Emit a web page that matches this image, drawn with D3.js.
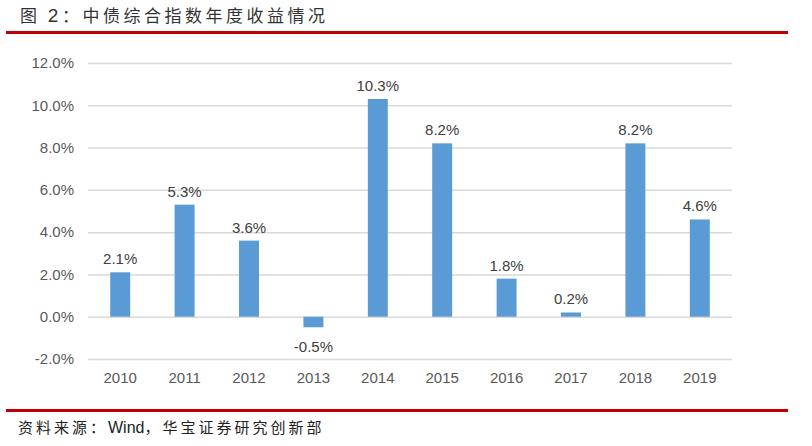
<!DOCTYPE html>
<html>
<head>
<meta charset="utf-8">
<script src="https://cdn.jsdelivr.net/npm/d3@7"></script>
<style>
  body { margin: 0; background: #fff; }
  text { font-family: "Liberation Sans", Arial, "Noto Sans CJK SC", sans-serif; }
</style>
</head>
<body>
<svg id="chart" width="812" height="446"></svg>
<script>
// annual returns of the China bond composite index
const years = ['2010', '2011', '2012', '2013', '2014', '2015', '2016', '2017', '2018', '2019']
const returns = [2.1, 5.3, 3.6, -0.5, 10.3, 8.2, 1.8, 0.2, 8.2, 4.6]
const yTicks = [-2, 0, 2, 4, 6, 8, 10, 12]

const svg = d3.select('#chart')
const cjk = '"Noto Sans CJK SC", "Liberation Sans", sans-serif'

// title, source and the two red rules
const title = svg.append('text')
    .attr('x', 20).attr('y', 22)
    .style('font-family', cjk)
    .style('font-size', '17px')
    .style('letter-spacing', '3.5px')
    .style('fill', '#333')
title.append('tspan').text('图 ')
title.append('tspan').style('font-family', '"Liberation Sans", sans-serif').style('font-size', '19px').text('2')
title.append('tspan').text('：中债综合指数年度收益情况')

svg.append('rect')
    .attr('x', 6).attr('y', 31).attr('width', 782).attr('height', 3)
    .attr('fill', '#c00000')
svg.append('rect')
    .attr('x', 6).attr('y', 409).attr('width', 782).attr('height', 3)
    .attr('fill', '#c00000')

const source = svg.append('text')
    .attr('x', 18).attr('y', 433)
    .style('font-family', cjk)
    .style('font-size', '15px')
    .style('letter-spacing', '3px')
    .style('fill', '#222')
source.append('tspan').text('资料来源：')
source.append('tspan').style('font-family', '"Liberation Sans", sans-serif').style('font-size', '16px').style('letter-spacing', '0px').text('Wind')
source.append('tspan').text('，华宝证券研究创新部')

// plot area
const left = 88, right = 732
const xScale = d3.scaleBand().domain(years).range([left, right]).paddingInner(0.69).paddingOuter(0.345)
const yScale = d3.scaleLinear().domain([-2, 12]).range([359, 63])

const yAxis = d3.axisLeft(yScale)
    .tickValues(yTicks)
    .tickSize(-(right - left))
    .tickPadding(14)
    .tickFormat(d => d.toFixed(1) + '%')

const yAxisG = svg.append('g')
    .attr('transform', 'translate(' + left + ',0)')
    .call(yAxis)
yAxisG.select('.domain').remove()
yAxisG.selectAll('.tick line').attr('stroke', '#d9d9d9').attr('stroke-width', 1.5)
yAxisG.selectAll('.tick text')
    .style('font-size', '15px')
    .style('fill', '#595959')
    .style('font-family', '"Liberation Sans", Arial, sans-serif')

const xAxis = d3.axisBottom(xScale).tickSize(0).tickPadding(13)
const xAxisG = svg.append('g')
    .attr('transform', 'translate(0,' + yScale(-2) + ')')
    .call(xAxis)
xAxisG.select('.domain').remove()
xAxisG.selectAll('.tick text')
    .style('font-size', '15px')
    .style('fill', '#595959')
    .style('font-family', '"Liberation Sans", Arial, sans-serif')

// bars
svg.selectAll('.bar')
    .data(returns)
    .enter().append('rect')
    .attr('class', 'bar')
    .attr('x', (d, i) => xScale(years[i]))
    .attr('width', xScale.bandwidth())
    .attr('y', d => yScale(Math.max(d, 0)))
    .attr('height', d => Math.abs(yScale(d) - yScale(0)))
    .attr('fill', '#5b9bd5')

// value labels
svg.selectAll('.valueLabel')
    .data(returns)
    .enter().append('text')
    .attr('class', 'valueLabel')
    .attr('x', (d, i) => xScale(years[i]) + xScale.bandwidth() / 2)
    .attr('y', d => d >= 0 ? yScale(d) - 8 : yScale(d) + 25)
    .attr('text-anchor', 'middle')
    .style('font-size', '15px')
    .style('fill', '#404040')
    .text(d => d.toFixed(1) + '%')
</script>
</body>
</html>
